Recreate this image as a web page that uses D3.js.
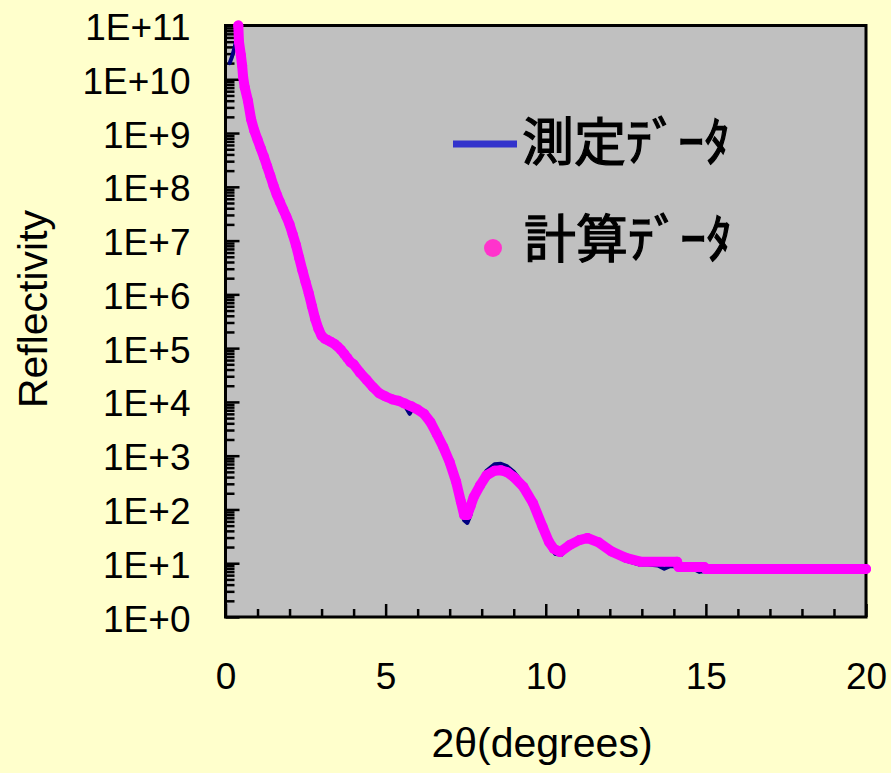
<!DOCTYPE html>
<html>
<head>
<meta charset="utf-8">
<script src="https://cdn.jsdelivr.net/npm/d3@7"></script>
<style>
html,body{margin:0;padding:0;background:#FFFFCC;}
svg{display:block;}
</style>
</head>
<body>
<svg id="chart" width="891" height="773"></svg>
<script>
// ---- data ----
const calcX = [0.40,0.42,0.48,0.52,0.55,0.60,0.70,0.80,0.90,1.00,1.10,1.20,1.30,1.40,1.50,1.60,1.70,1.80,1.90,2.00,
  2.10,2.20,2.30,2.40,2.50,2.60,2.70,2.80,2.90,3.00,3.10,3.20,3.30,3.40,3.50,3.60,3.70,3.80,3.90,4.00,
  4.20,4.40,4.60,4.80,5.00,5.20,5.40,5.60,5.80,6.00,6.20,6.40,6.60,6.80,7.00,7.20,7.35,7.45,7.55,7.65,
  7.75,7.95,8.15,8.40,8.60,8.80,9.00,9.30,9.60,9.90,10.10,10.25,10.45,10.75,11.05,11.30,11.65,12.05,12.50,12.95,
  14.10,14.15,14.95,15.00,20.00];
const calcY = [1.0e11,5.0e10,2.8e10,1.8e10,1.1e10,7.1e9,4.0e9,1.8e9,1.1e9,7.6e8,5.2e8,3.6e8,2.4e8,1.6e8,1.05e8,7.2e7,5.2e7,3.8e7,2.8e7,2.0e7,
  1.3e7,8.3e6,4.8e6,2.8e6,1.7e6,1.05e6,6.0e5,3.5e5,2.3e5,1.7e5,1.5e5,1.4e5,1.3e5,1.2e5,1.07e5,9.3e4,7.9e4,6.6e4,5.5e4,5.0e4,
  3.5e4,2.6e4,1.9e4,1.45e4,1.26e4,1.12e4,1.05e4,9.3e3,8.3e3,7.2e3,6.0e3,4.2e3,2.5e3,1.45e3,760,330,140,79,79,115,
  170,280,430,525,537,490,400,263,132,48,25,18.6,16.2,21.9,26.9,29.5,24.5,16.6,12.6,10.7,
  10.7,8.5,8.5,7.8,7.8];

const measX = [0.13,0.20,0.28,0.34,0.38,0.41,0.44,0.48,0.52,0.56,0.60,0.70,0.80,0.90,1.00,1.10,1.20,1.30,1.40,1.50,
  1.60,1.70,1.80,1.90,2.00,2.10,2.20,2.30,2.40,2.50,2.60,2.70,2.80,2.90,3.00,3.10,3.20,3.30,3.40,3.50,
  3.60,3.70,3.80,3.90,4.00,4.20,4.40,4.60,4.80,4.90,5.00,5.20,5.40,5.60,5.75,5.85,6.00,6.20,6.50,6.80,
  7.00,7.20,7.35,7.45,7.55,7.65,7.75,7.95,8.15,8.40,8.60,8.80,9.00,9.30,9.60,9.90,10.10,10.30,10.50,10.75,
  11.05,11.30,11.65,12.05,12.50,12.90,13.20,13.50,13.70,13.90,14.20,14.60,14.80,15.00,16.00,18.00,20.00];
const measY = [2.0e10,2.6e10,3.8e10,5.6e10,8.9e10,1.0e11,5.6e10,2.5e10,1.4e10,8.9e9,6.3e9,3.3e9,1.6e9,1.0e9,6.6e8,4.6e8,3.2e8,2.1e8,1.4e8,9.3e7,
  6.5e7,4.7e7,3.4e7,2.5e7,1.8e7,1.2e7,7.2e6,4.2e6,2.5e6,1.6e6,9.5e5,5.8e5,3.2e5,2.1e5,1.66e5,1.48e5,1.35e5,1.26e5,1.15e5,1.02e5,
  8.9e4,7.6e4,6.3e4,5.2e4,4.6e4,3.4e4,2.5e4,1.9e4,1.5e4,1.45e4,1.3e4,1.07e4,9.5e3,8.5e3,6.0e3,7.6e3,6.9e3,5.5e3,3.2e3,1.35e3,
  660,295,112,63,56,79,151,316,525,692,708,631,501,302,135,42,21,14.8,14.5,21,
  26.3,28.8,22.9,15.1,11.2,9.5,9.5,9.1,7.9,8.9,8.5,7.9,6.9,7.2,7.1,7.1,7.1];

const xMajorTicks = [0,5,10,15,20];
const xMinorTicks = [1,2,3,4,6,7,8,9,11,12,13,14,16,17,18,19];
const yMajorTicks = [1,1e1,1e2,1e3,1e4,1e5,1e6,1e7,1e8,1e9,1e10,1e11];
const yTickLabels = ["1E+0","1E+1","1E+2","1E+3","1E+4","1E+5","1E+6","1E+7","1E+8","1E+9","1E+10","1E+11"];
const legendLabels = ["測定ﾃﾞｰﾀ","計算ﾃﾞｰﾀ"];
const xTitle = "2θ(degrees)";
const yTitle = "Reflectivity";

// ---- drawing ----
const svg = d3.select("#chart");
const L = 225.5, R = 866, T = 25.5, B = 617;
const x = d3.scaleLinear().domain([0,20]).range([L,R]);
const y = d3.scaleLog().domain([1,1e11]).range([B,T]);

svg.append("rect").attr("width",891).attr("height",773).attr("fill","#FFFFCC");
svg.append("rect").attr("x",L).attr("y",T).attr("width",R-L).attr("height",B-T).attr("fill","#C0C0C0");

const font = "'Liberation Sans', Arial, sans-serif";

// minor y ticks
const yMinor = [];
yMajorTicks.slice(0,-1).forEach(p => { for (let k=2;k<=9;k++) yMinor.push(p*k); });

function styleAxis(g){
  g.select(".domain").remove();
  g.selectAll(".tick line").attr("stroke","#000").attr("stroke-width",2.5);
  g.selectAll(".tick text").attr("fill","#000").style("font-family",font).style("font-size","37px");
}

svg.append("g").attr("transform",`translate(0,${B})`)
  .call(d3.axisBottom(x).tickValues(xMinorTicks).tickSize(-8).tickFormat(""))
  .call(styleAxis);
svg.append("g").attr("transform",`translate(0,${B})`)
  .call(d3.axisBottom(x).tickValues(xMajorTicks).tickSize(-13).tickPadding(46).tickFormat(d3.format("d")))
  .call(styleAxis);

svg.append("g").attr("transform",`translate(${L},0)`)
  .call(d3.axisLeft(y).tickValues(yMinor).tickSize(-9).tickFormat(""))
  .call(styleAxis);
svg.append("g").attr("transform",`translate(${L},0)`)
  .call(d3.axisLeft(y).tickValues(yMajorTicks).tickSize(-14).tickPadding(35)
        .tickFormat((d,i) => yTickLabels[i]))
  .call(styleAxis)
  .call(g => g.selectAll(".tick text").attr("dy","0.38em"));

// frame
svg.append("rect").attr("x",L).attr("y",T).attr("width",R-L).attr("height",B-T)
  .attr("fill","none").attr("stroke","#000").attr("stroke-width",3);

// measured line
const meas = measX.map((v,i)=>[v,measY[i]]);
const calc = calcX.map((v,i)=>[v,calcY[i]]);
const line = d3.line().x(d=>x(d[0])).y(d=>y(d[1]));

svg.append("path").datum(meas).attr("d",line)
  .attr("fill","none").attr("stroke","#000080").attr("stroke-width",4)
  .attr("stroke-linejoin","round").attr("stroke-linecap","round");

// calculated dots (dense markers)
svg.append("path").datum(calc).attr("d",line)
  .attr("fill","none").attr("stroke","#FF00FF").attr("stroke-width",10)
  .attr("stroke-linejoin","round").attr("stroke-linecap","round");
svg.append("g").selectAll("circle").data(calc).join("circle")
  .attr("cx",d=>x(d[0])).attr("cy",d=>y(d[1])).attr("r",5).attr("fill","#FF00FF");

// legend
const jp = "'Noto Sans CJK JP', sans-serif";
svg.append("line").attr("x1",453).attr("x2",517).attr("y1",144).attr("y2",144)
  .attr("stroke","#3333CC").attr("stroke-width",7);
svg.append("text").attr("x",522).attr("y",161).text(legendLabels[0])
  .style("font-family",jp).style("font-size","52px").attr("fill","#000")
  .attr("stroke","#000").attr("stroke-width",1.2);
svg.append("circle").attr("cx",493).attr("cy",248).attr("r",9).attr("fill","#FF33CC");
svg.append("text").attr("x",524).attr("y",258).text(legendLabels[1])
  .style("font-family",jp).style("font-size","52px").attr("fill","#000")
  .attr("stroke","#000").attr("stroke-width",1.2);

// titles
svg.append("text").attr("x",542).attr("y",757).attr("text-anchor","middle")
  .style("font-family",font).style("font-size","41px").attr("fill","#000").text(xTitle);
svg.append("text").attr("transform","translate(47,309) rotate(-90)").attr("text-anchor","middle")
  .style("font-family",font).style("font-size","41px").attr("fill","#000").text(yTitle);
</script>
</body>
</html>
